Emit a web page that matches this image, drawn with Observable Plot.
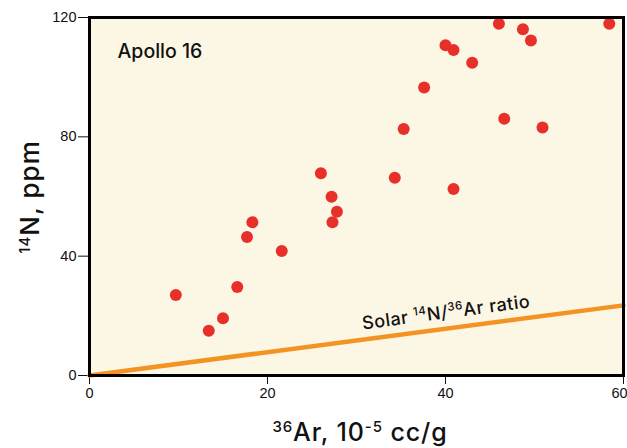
<!DOCTYPE html>
<html>
<head>
<meta charset="utf-8">
<script src="https://cdn.jsdelivr.net/npm/d3@7"></script>
<script src="https://cdn.jsdelivr.net/npm/@observablehq/plot@0.6"></script>
<style>
  html, body { margin: 0; padding: 0; background: #fff; }
  svg { display: block; }
</style>
</head>
<body>
<div id="chart"></div>
<script>
// Data
const ar36 = [9.7, 13.4, 15.0, 16.6, 17.7, 18.3, 21.6, 26.0, 27.2, 27.8, 27.3, 34.3, 35.3, 37.6, 40.0, 40.9, 40.9, 43.0, 46.0, 46.6, 48.7, 49.6, 50.9, 58.4];
const n14  = [27.0, 15.0, 19.2, 29.7, 46.4, 51.4, 41.7, 67.8, 59.9, 54.9, 51.4, 66.3, 82.6, 96.5, 110.7, 109.1, 62.5, 104.8, 117.9, 86.1, 116.1, 112.3, 83.1, 117.9];
const solarX = [0, 60];
const solarY = [0, 23.5];
const xTicks = [0, 20, 40, 60];
const yTicks = [0, 40, 80, 120];

const points = ar36.map((x, i) => ({x, y: n14[i]}));
const solar = solarX.map((x, i) => ({x, y: solarY[i]}));

const font = "'Liberation Sans', Arial, Helvetica, sans-serif";
const labelFont = "Inter, 'Liberation Sans', Arial, sans-serif";

const svg = Plot.plot({
  width: 627,
  height: 448,
  marginLeft: 89,
  marginRight: 4,
  marginTop: 17,
  marginBottom: 73,
  style: {fontFamily: font, fontSize: "14.5px", background: "white", color: "#111"},
  x: {domain: [0, 60], ticks: xTicks, label: null, tickSize: 9, tickPadding: 3},
  y: {domain: [0, 120], ticks: yTicks, label: null, tickSize: 11, tickPadding: 2},
  marks: [
    Plot.frame({fill: "#fcf6e4", stroke: "none"}),
    Plot.line(solar, {x: "x", y: "y", stroke: "#f39323", strokeWidth: 4.5}),
    Plot.dot(points, {x: "x", y: "y", r: 6, fill: "#e8302a", stroke: "none"}),
    Plot.frame({stroke: "black", strokeWidth: 3}),
    Plot.text(["Apollo 16"], {frameAnchor: "top-left", dx: 28, dy: 40, fontSize: 19.5, fontWeight: 500, fontFamily: labelFont, fill: "#111", textAnchor: "start", lineAnchor: "bottom"})
  ]
});

document.getElementById("chart").appendChild(svg);

const s = d3.select(svg);
const xs = svg.scale("x"), ys = svg.scale("y");

// keep the last x tick label inside the picture, as in the reference
s.selectAll("[aria-label='x-axis tick label'] text")
  .filter(function() { return this.textContent === "60"; })
  .attr("dx", -4);

function supText(g, parts, size, supSize) {
  parts.forEach(([t, sup]) => {
    g.append("tspan")
      .attr("font-size", sup ? supSize : size)
      .attr("baseline-shift", sup ? "super" : null)
      .text(t);
  });
}

// x axis label
const xl = s.append("text")
  .attr("x", 360).attr("y", 441)
  .attr("text-anchor", "middle")
  .attr("font-family", labelFont)
  .attr("font-weight", 500)
  .attr("font-size", 25)
  .attr("letter-spacing", 0.9)
  .attr("fill", "#111");
supText(xl, [["36", true], ["Ar, 10", false], ["-5", true], [" cc/g", false]], 25, 15);

// y axis label
const yl = s.append("text")
  .attr("transform", "translate(39,197) rotate(-90)")
  .attr("text-anchor", "middle")
  .attr("font-family", labelFont)
  .attr("font-weight", 500)
  .attr("font-size", 26)
  .attr("letter-spacing", 1)
  .attr("fill", "#111");
supText(yl, [["14", true], ["N, ppm", false]], 26, 15);

// Solar ratio label along the line
const lx = xs.apply(40.2), ly = ys.apply(19.0);
const sl = s.append("text")
  .attr("transform", `translate(${lx},${ly}) rotate(-7.6)`)
  .attr("text-anchor", "middle")
  .attr("font-family", labelFont)
  .attr("font-weight", 500)
  .attr("font-size", 18)
  .attr("letter-spacing", 0.5)
  .attr("fill", "#111");
supText(sl, [["Solar ", false], ["14", true], ["N/", false], ["36", true], ["Ar ratio", false]], 18, 11.5);
</script>
</body>
</html>
